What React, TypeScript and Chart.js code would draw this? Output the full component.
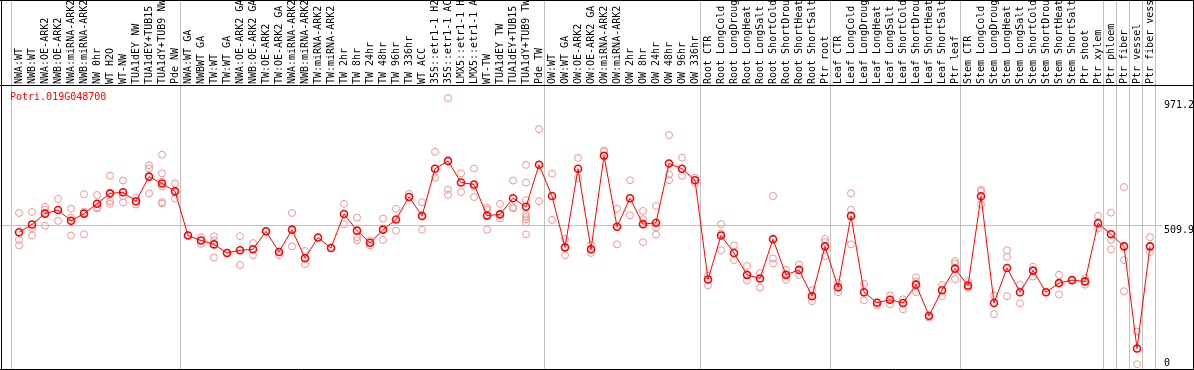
import React, { useEffect, useRef } from "react";
import { Chart, registerables } from "chart.js";

Chart.register(...registerables);

const geneId = "Potri.019G048700";

const categories: string[] = [
  "NWA:WT", "NWB:WT", "NWA:OE-ARK2", "NWB:OE-ARK2", "NWA:miRNA-ARK2", "NWB:miRNA-ARK2",
  "NW 0hr", "WT H2O", "WT-NW", "TUA1dEY NW", "TUA1dEY+TUB15", "TUA1dY+TUB9 NW", "Pde NW",
  "NWA:WT GA", "NWBWT GA", "TW:WT", "TW:WT GA", "NWA:OE-ARK2 GA", "NWB:OE-ARK2 GA",
  "TW:OE-ARK2", "TW:OE-ARK2 GA", "NWA:miRNA-ARK2", "NWB:miRNA-ARK2", "TW:miRNA-ARK2",
  "TW:miRNA-ARK2", "TW 2hr", "TW 8hr", "TW 24hr", "TW 48hr", "TW 96hr", "TW 336hr",
  "WT ACC", "35S::etr1-1 H2O", "35S::etr1-1 ACC", "LMX5::etr1-1 H2O", "LMX5::etr1-1 ACC",
  "WT-TW", "TUA1dEY TW", "TUA1dEY+TUB15", "TUA1dY+TUB9 TW", "Pde TW",
  "OW:WT", "OW:WT GA", "OW:OE-ARK2", "OW:OE-ARK2 GA", "OW:miRNA-ARK2", "OW:miRNA-ARK2",
  "OW 2hr", "OW 8hr", "OW 24hr", "OW 48hr", "OW 96hr", "OW 336hr",
  "Root CTR", "Root LongCold", "Root LongDrought", "Root LongHeat", "Root LongSalt",
  "Root ShortCold", "Root ShortDrought", "Root ShortHeat", "Root ShortSalt", "Ptr root",
  "Leaf CTR", "Leaf LongCold", "Leaf LongDrought", "Leaf LongHeat", "Leaf LongSalt",
  "Leaf ShortCold", "Leaf ShortDrought", "Leaf ShortHeat", "Leaf ShortSalt", "Ptr leaf",
  "Stem CTR", "Stem LongCold", "Stem LongDrought", "Stem LongHeat", "Stem LongSalt",
  "Stem ShortCold", "Stem ShortDrought", "Stem ShortHeat", "Stem ShortSalt", "Ptr shoot",
  "Ptr xylem", "Ptr phloem", "Ptr fiber", "Ptr vessel", "Ptr fiber vessel",
];

const means: number[] = [
  484.7, 513.5, 553.2, 566.5, 526.8, 553.2, 589.2, 627.7, 631.4, 598.9, 689.0, 663.8, 635.0,
  472.8, 454.8, 440.4, 409.0, 418.7, 422.3, 488.3, 412.6, 494.4, 389.9, 465.6, 427.0, 552.1,
  490.8, 446.1, 494.4, 531.5, 614.4, 544.9, 717.8, 746.7, 667.4, 660.2, 545.9, 550.6, 609.7,
  578.4, 732.3,
  618.0, 429.5, 717.8, 422.3, 765.8, 505.2, 609.7, 514.6, 519.6, 736.9, 717.8, 675.7,
  311.7, 472.8, 409.0, 328.6, 315.3, 459.5, 328.6, 346.7, 250.5, 433.2,
  282.9, 544.9, 264.9, 226.3, 237.1, 225.2, 292.6, 178.4, 272.1, 351.4,
  289.0, 616.9, 225.2, 353.9, 264.9, 344.1, 264.9, 298.4, 309.2, 304.5, 518.2,
  477.5, 433.2, 58.4, 433.2,
];

const replicates: number[][] = [
  [555.7, 456.9, 436.8], [559.3, 500.2, 472.8], [578.4, 568.7, 508.8], [607.2, 526.8],
  [571.2, 538.7, 472.8], [624.1, 560.4, 477.5], [621.6, 577.3, 572.3], [692.6, 598.9, 589.2],
  [674.6, 616.9, 593.9], [610.8, 586.7], [730.8, 718.9, 627.7],
  [769.4, 700.9, 671.0, 653.0, 595.3, 590.3], [663.8, 608.3],
  [472.8], [466.7, 442.5], [470.3, 454.8, 392.1], [409.0], [470.3, 364.7], [445.0, 400.7],
  [488.3], [400.7], [555.7, 433.2], [416.2, 368.3], [465.6], [427.0], [589.2, 514.6],
  [538.7, 466.7, 454.8], [454.8, 436.8], [535.1, 456.9], [571.2, 490.8], [625.2],
  [595.3, 494.4], [780.2, 685.4], [977.3, 640.7, 622.7], [700.9, 632.4], [718.9, 653.0, 614.4],
  [574.8, 567.6, 494.4], [589.2, 535.1], [674.6, 577.3, 572.3],
  [732.3, 667.4, 602.5, 550.6, 541.3, 532.6, 520.7, 477.5], [863.1, 598.9],
  [699.8, 530.5], [460.5, 400.7], [757.5, 682.9], [438.9, 409.0], [784.9, 779.1],
  [571.2, 440.4], [675.7, 547.0], [562.9, 532.6, 448.6], [580.9, 502.7, 476.4],
  [841.4, 697.3, 675.7], [758.6, 692.6], [685.4, 664.9],
  [326.1, 290.1], [514.6, 481.1, 418.7], [436.8, 382.7], [361.1, 308.1], [334.4, 281.8],
  [618.0, 388.5, 370.5], [346.7, 310.6], [366.8, 328.6], [272.1, 232.4], [460.5, 448.6, 397.1],
  [298.4, 264.9], [627.7, 567.6, 440.4], [296.2, 235.0], [216.9], [253.0, 220.5],
  [238.6, 202.5], [320.0, 304.5, 264.9], [172.3], [291.2, 250.5], [379.1, 370.5, 312.8],
  [304.5, 280.4], [640.7, 635.0, 586.7], [253.0, 184.5], [418.7, 394.6, 250.5], [292.6, 224.1],
  [358.6, 322.5], [264.9], [328.6, 256.6], [309.2], [316.4, 292.6], [544.9, 499.1],
  [556.8, 456.9, 422.3], [650.5, 382.7, 268.5], [120.7, 0.7], [466.7, 412.6],
];

const groupBreaks: number[] = [0, 13, 41, 53, 63, 73, 84, 85, 86, 87, 88];
const yTickValues: number[] = [0, 509.9, 971.2];
const yTickLabels: string[] = ["0", "509.9", "971.2"];
const yGridValues: number[] = [509.9];
const Y_MAX = 1025.2;

const FONT = '10px "DejaVu Sans Mono", monospace';

const decorPlugin = {
  id: "decor",
  beforeDatasetsDraw(chart: any) {
    const { ctx } = chart;
    const x = chart.scales.x;
    const y = chart.scales.y;
    ctx.save();
    ctx.strokeStyle = "#c0c0c0";
    ctx.lineWidth = 1;
    ctx.beginPath();
    for (const b of groupBreaks) {
      const px = Math.round(x.getPixelForValue(b - 0.5) - 1.5) + 0.5;
      ctx.moveTo(px, 0);
      ctx.lineTo(px, chart.height);
    }
    for (const v of yGridValues) {
      const py = Math.round(y.getPixelForValue(v)) + 0.5;
      ctx.moveTo(0, py);
      ctx.lineTo(x.right + 6, py);
    }
    ctx.stroke();
    ctx.restore();
  },
  afterDraw(chart: any) {
    const { ctx } = chart;
    const x = chart.scales.x;
    const y = chart.scales.y;
    const W = chart.width;
    ctx.save();
    // frame
    ctx.strokeStyle = "#000";
    ctx.lineWidth = 1;
    ctx.beginPath();
    ctx.moveTo(0, 0.5); ctx.lineTo(W, 0.5);
    ctx.moveTo(0, 85.5); ctx.lineTo(W, 85.5);
    ctx.moveTo(0, 369.5); ctx.lineTo(W, 369.5);
    ctx.moveTo(1.5, 0); ctx.lineTo(1.5, 370);
    ctx.moveTo(W - 0.5, 0); ctx.lineTo(W - 0.5, 370);
    ctx.stroke();

    // header labels (rotated)
    ctx.font = FONT;
    ctx.fillStyle = "#000";
    ctx.textAlign = "left";
    ctx.textBaseline = "alphabetic";
    categories.forEach((lab, i) => {
      const px = x.getPixelForValue(i);
      ctx.save();
      ctx.translate(Math.round(px) + 3, 84);
      ctx.rotate(-Math.PI / 2);
      ctx.fillText(lab, 0, 0);
      ctx.restore();
    });

    // title
    ctx.fillStyle = "#ff0000";
    ctx.fillText(geneId, 10, 100);

    // y labels on the right
    ctx.fillStyle = "#000";
    yTickValues.forEach((v, k) => {
      const py = Math.round(y.getPixelForValue(v));
      const base = Math.min(py + 8, 366);
      ctx.fillText(yTickLabels[k], Math.round(x.right) + 7, base);
    });
    ctx.restore();
  },
};

export default function App() {
  const ref = useRef<HTMLCanvasElement>(null);
  useEffect(() => {
    document.body.style.margin = "0";
    const maxReps = Math.max(...replicates.map((r) => r.length));
    const repSets = [] as any[];
    for (let r = 0; r < maxReps; r++) {
      repSets.push({
        type: "line",
        label: "rep" + r,
        data: categories.map((_, i) => (replicates[i][r] !== undefined ? replicates[i][r] : null)),
        showLine: false,
        pointRadius: 3.5,
        pointBorderWidth: 1,
        pointBorderColor: "#ef9696",
        pointBackgroundColor: "rgba(255,255,255,0)",
        order: 1,
        clip: false,
      });
    }
    const chart = new Chart(ref.current as HTMLCanvasElement, {
      type: "line",
      data: {
        labels: categories,
        datasets: [
          {
            label: geneId,
            data: means,
            borderColor: "#ff0000",
            borderWidth: 1,
            tension: 0,
            pointRadius: 3.5,
            pointBorderWidth: 1.6,
            pointBorderColor: "#ff0000",
            pointBackgroundColor: "rgba(255,255,255,0)",
            order: 0,
            clip: false,
          } as any,
          ...repSets,
        ],
      },
      options: {
        animation: false,
        responsive: false,
        events: [],
        layout: { padding: { left: 12.5, right: 37.5, top: 85, bottom: 0.5 } },
        plugins: { legend: { display: false }, tooltip: { enabled: false } },
        scales: {
          x: { type: "category", offset: true, display: false },
          y: { type: "linear", min: 0, max: Y_MAX, display: false },
        },
      },
      plugins: [decorPlugin],
    });
    return () => chart.destroy();
  }, []);
  return (
    <div style={{ position: "fixed", left: 0, top: 0, width: 1194, height: 370, background: "#fff" }}>
      <canvas ref={ref} width={1194} height={370} style={{ display: "block", width: 1194, height: 370 }} />
    </div>
  );
}
